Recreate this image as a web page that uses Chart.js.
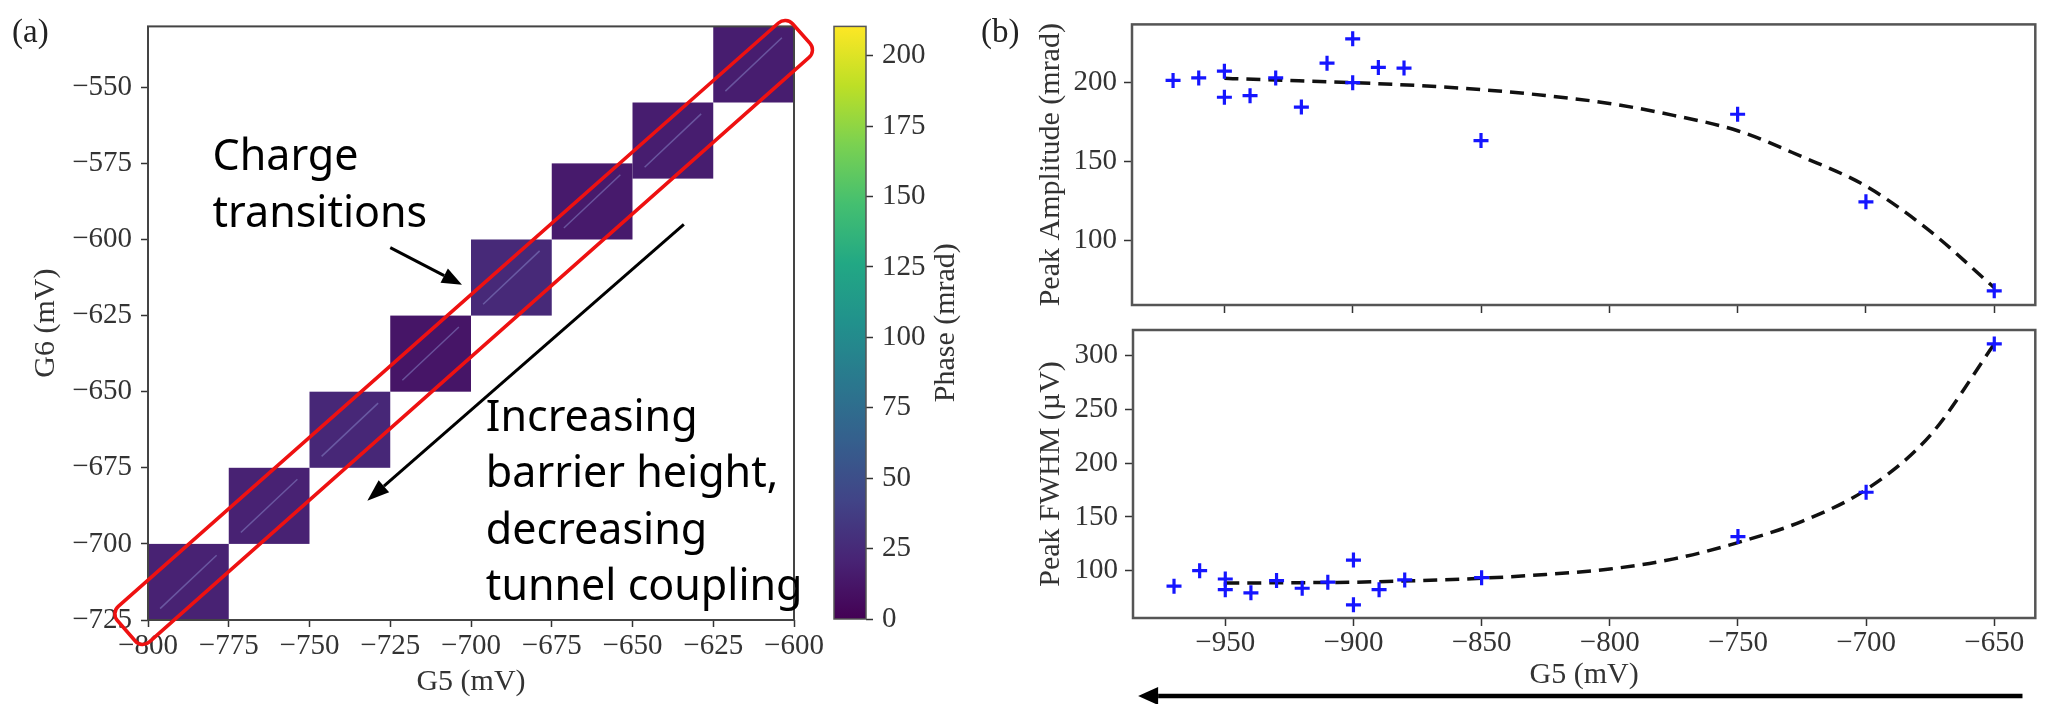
<!DOCTYPE html>
<html>
<head>
<meta charset="utf-8">
<script src="https://cdn.jsdelivr.net/npm/chart.js@4.4.1/dist/chart.umd.min.js"></script>
<style>
  html, body { margin: 0; padding: 0; background: #fff; }
  #wrap { position: relative; width: 2046px; height: 704px; overflow: hidden; }
  #wrap canvas { position: absolute; left: 0; top: 0; }
</style>
</head>
<body>
<div id="wrap">
  <canvas id="mapChart" width="2046" height="704"></canvas>
  <canvas id="barChart" width="2046" height="704"></canvas>
  <canvas id="ampChart" width="2046" height="704"></canvas>
  <canvas id="fwhmChart" width="2046" height="704"></canvas>
</div>
<script>
// panel (a): bloques del mapa de fase (esquina inferior izquierda de cada bloque)
const cellG5 = [-800, -775, -750, -725, -700, -675, -650, -625];
const cellG6 = [-725, -700, -675, -650, -625, -600, -580, -555];
const cellStep = 25;
const cellPhase = [20, 20, 23, 12, 24, 15, 17, 17];
const mapTicksG5 = [-800, -775, -750, -725, -700, -675, -650, -625, -600];
const mapTicksG6 = [-725, -700, -675, -650, -625, -600, -575, -550];
const phaseTicks = [0, 25, 50, 75, 100, 125, 150, 175, 200];

// panel (b): picos medidos
const g5Points = [-970, -960, -950, -950, -940, -930, -920, -910, -900, -900, -890, -880, -850, -750, -700, -650];
const peakAmp  = [201.0, 202.6, 206.8, 190.4, 191.4, 202.6, 184.2, 211.9, 227.2, 199.6, 209.2, 208.8, 163.1, 179.7, 124.5, 68.4];
const peakFwhm = [85.6, 100.0, 92.3, 82.4, 79.4, 90.8, 83.7, 89.3, 109.9, 68.3, 82.4, 91.4, 93.5, 131.8, 173.0, 311.0];
// curvas de ajuste
const fitG5   = [-950, -925, -900, -875, -850, -825, -800, -775, -750, -725, -700, -675, -650];
const fitAmp  = [202.3, 201.0, 199.6, 197.8, 195.2, 191.5, 186.5, 179.0, 169.3, 153.0, 134.4, 106.0, 70.4];
const fitFwhm = [88.5, 88.8, 89.3, 90.8, 93.0, 96.5, 101.6, 111.0, 126.2, 146.0, 175.5, 226.0, 311.0];
const bTicksG5 = [-950, -900, -850, -800, -750, -700, -650];
const ampTicks = [100, 150, 200];
const fwhmTicks = [100, 150, 200, 250, 300];

const SERIF = "'Liberation Serif', 'Times New Roman', serif";
const SANS = "'Noto Sans', 'Open Sans', sans-serif";
Chart.defaults.font.family = SERIF;
Chart.defaults.color = '#333';

const viridis = ['#440154', '#482475', '#414487', '#355f8d', '#2a788e', '#21918c',
                 '#22a884', '#44bf70', '#7ad151', '#bddf26', '#fde725'];

function viridisAt(t) {
    t = Math.min(1, Math.max(0, t)) * (viridis.length - 1);
    const i = Math.min(Math.floor(t), viridis.length - 2);
    const f = t - i;
    const a = parseInt(viridis[i].slice(1), 16), b = parseInt(viridis[i + 1].slice(1), 16);
    const ch = s => Math.round(((a >> s) & 255) * (1 - f) + ((b >> s) & 255) * f);
    return `rgb(${ch(16)},${ch(8)},${ch(0)})`;
}

const minus = v => String(v).replace('-', '\u2212');
const tickFont = { family: SERIF, size: 29 };
const titleFont = { family: SERIF, size: 30 };

// eje lineal con ticks fijos
function axis(min, max, ticks, extra) {
    return Object.assign({
        type: 'linear',
        min: min,
        max: max,
        afterBuildTicks: s => { s.ticks = ticks.map(v => ({ value: v })); },
        grid: { drawOnChartArea: false, drawTicks: true, tickLength: 7, tickColor: '#333', tickWidth: 1.5 },
        border: { display: false },
        ticks: { font: tickFont, color: '#333', padding: 2, callback: minus, maxRotation: 0, autoSkip: false }
    }, extra);
}

// marco alrededor del area de datos
const framePlugin = {
    id: 'frame',
    afterDatasetsDraw(chart, args, opts) {
        const a = chart.chartArea, ctx = chart.ctx;
        ctx.save();
        ctx.strokeStyle = opts.color || '#444';
        ctx.lineWidth = opts.width || 2;
        ctx.strokeRect(a.left, a.top, a.right - a.left, a.bottom - a.top);
        ctx.restore();
    }
};

function drawArrow(ctx, x1, y1, x2, y2, w, headLen, headW) {
    const ang = Math.atan2(y2 - y1, x2 - x1);
    const bx = x2 - headLen * Math.cos(ang), by = y2 - headLen * Math.sin(ang);
    ctx.lineWidth = w;
    ctx.beginPath(); ctx.moveTo(x1, y1); ctx.lineTo(bx, by); ctx.stroke();
    ctx.beginPath();
    ctx.moveTo(x2, y2);
    ctx.lineTo(bx + headW * Math.sin(ang), by - headW * Math.cos(ang));
    ctx.lineTo(bx - headW * Math.sin(ang), by + headW * Math.cos(ang));
    ctx.closePath(); ctx.fill();
}

// ---------- panel (a): mapa ----------
const heatPlugin = {
    id: 'heat',
    beforeDatasetsDraw(chart) {
        const ctx = chart.ctx, xs = chart.scales.x, ys = chart.scales.y;
        ctx.save();
        cellG5.forEach((g5, i) => {
            const x0 = xs.getPixelForValue(g5), x1 = xs.getPixelForValue(g5 + cellStep);
            const y0 = ys.getPixelForValue(cellG6[i]), y1 = ys.getPixelForValue(cellG6[i] + cellStep);
            ctx.fillStyle = viridisAt(cellPhase[i] / 210.4);
            ctx.fillRect(x0, y1, x1 - x0, y0 - y1);
            // linea de transicion
            ctx.strokeStyle = 'rgba(140,140,205,0.5)';
            ctx.lineWidth = 1.5;
            ctx.beginPath();
            ctx.moveTo(x0 + (x1 - x0) * 0.15, y0 - (y0 - y1) * 0.15);
            ctx.lineTo(x0 + (x1 - x0) * 0.85, y0 - (y0 - y1) * 0.85);
            ctx.stroke();
        });
        ctx.restore();
    }
};

const notePlugin = {
    id: 'notes',
    afterDraw(chart) {
        const ctx = chart.ctx, xs = chart.scales.x, ys = chart.scales.y;
        const px = (a, b) => [xs.getPixelForValue(a), ys.getPixelForValue(b)];
        ctx.save();
        // caja roja
        const L = px(-811.5, -722.7), T = px(-602.5, -526.7), R = px(-593, -538), B = px(-801.9, -734.4);
        const r = 10;
        ctx.strokeStyle = '#ee1111';
        ctx.lineWidth = 3.5;
        ctx.beginPath();
        ctx.moveTo((L[0] + T[0]) / 2, (L[1] + T[1]) / 2);
        ctx.arcTo(T[0], T[1], R[0], R[1], r);
        ctx.arcTo(R[0], R[1], B[0], B[1], r);
        ctx.arcTo(B[0], B[1], L[0], L[1], r);
        ctx.arcTo(L[0], L[1], T[0], T[1], r);
        ctx.closePath();
        ctx.stroke();

        // flechas
        ctx.strokeStyle = '#000';
        ctx.fillStyle = '#000';
        let a = px(-725, -602.7), b = px(-702.8, -614.9);
        drawArrow(ctx, a[0], a[1], b[0], b[1], 3, 20, 8);
        a = px(-634.1, -595); b = px(-732.1, -685.8);
        drawArrow(ctx, a[0], a[1], b[0], b[1], 3, 22, 8);

        // textos
        ctx.font = '43px ' + SANS;
        ctx.textAlign = 'left';
        ctx.textBaseline = 'alphabetic';
        let p = px(-780, -577.3);
        ['Charge', 'transitions'].forEach((t, i) => ctx.fillText(t, p[0], p[1] + i * 56.6));
        p = px(-695.4, -662.8);
        ['Increasing', 'barrier height,', 'decreasing', 'tunnel coupling']
            .forEach((t, i) => ctx.fillText(t, p[0], p[1] + i * 56.6));

        ctx.font = '33px ' + SERIF;
        ctx.fillStyle = '#222';
        ctx.fillText('(a)', 12, 42);
        ctx.restore();
    }
};

const mapX = axis(-800, -600, mapTicksG5, {
    position: 'bottom',
    afterFit: s => { s.height = 80; },
    title: { display: true, text: 'G5 (mV)', font: titleFont, color: '#333', padding: 0 }
});
const mapY = axis(-725, -530, mapTicksG6, {
    position: 'left',
    afterFit: s => { s.width = 120; },
    title: { display: true, text: 'G6 (mV)', font: titleFont, color: '#333', padding: 0 }
});
mapY.ticks.padding = 9;

new Chart(document.getElementById('mapChart'), {
    type: 'scatter',
    data: { datasets: [{ data: [] }] },
    options: {
        responsive: false,
        animation: false,
        devicePixelRatio: 1,
        layout: { padding: { left: 28, top: 18, right: 1252, bottom: 4 } },
        plugins: { legend: { display: false }, tooltip: { enabled: false }, frame: { color: '#444', width: 2 } },
        scales: { x: mapX, y: mapY }
    },
    plugins: [heatPlugin, framePlugin, notePlugin]
});

// ---------- barra de color ----------
const colorbarPlugin = {
    id: 'colorbar',
    beforeDatasetsDraw(chart) {
        const ctx = chart.ctx, a = chart.chartArea, ys = chart.scales.y;
        const g = ctx.createLinearGradient(0, ys.getPixelForValue(0), 0, ys.getPixelForValue(210.4));
        viridis.forEach((c, i) => g.addColorStop(i / (viridis.length - 1), c));
        ctx.save();
        ctx.fillStyle = g;
        ctx.fillRect(a.left, a.top, a.right - a.left, a.bottom - a.top);
        ctx.restore();
    },
    afterDraw(chart) {
        const ctx = chart.ctx, a = chart.chartArea;
        ctx.save();
        ctx.translate(946, (a.top + a.bottom) / 2);
        ctx.rotate(-Math.PI / 2);
        ctx.font = '30px ' + SERIF;
        ctx.fillStyle = '#333';
        ctx.textAlign = 'center';
        ctx.textBaseline = 'middle';
        ctx.fillText('Phase (mrad)', 0, 0);
        ctx.restore();
    }
};

const barY = axis(0, 210.4, phaseTicks, {
    position: 'right',
    afterFit: s => { s.width = 120; }
});
barY.ticks.padding = 9;

new Chart(document.getElementById('barChart'), {
    type: 'scatter',
    data: { datasets: [{ data: [] }] },
    options: {
        responsive: false,
        animation: false,
        devicePixelRatio: 1,
        layout: { padding: { left: 834, top: 17, right: 1060, bottom: 85 } },
        plugins: { legend: { display: false }, tooltip: { enabled: false }, frame: { color: '#555', width: 1.5 } },
        scales: {
            x: { type: 'linear', display: false, min: 0, max: 1 },
            y: barY
        }
    },
    plugins: [colorbarPlugin, framePlugin]
});

// ---------- panel (b) ----------
function peakChart(id, values, fit, yMin, yMax, yTicks, yTitle, padTop, padBottom, xHeight, showX) {
    const xAxis = axis(-986, -634, bTicksG5, {
        position: 'bottom',
        afterFit: s => { s.height = xHeight; }
    });
    xAxis.grid.tickLength = 8;
    if (showX) {
        xAxis.ticks.padding = 0;
        xAxis.title = { display: true, text: 'G5 (mV)', font: titleFont, color: '#333', padding: 0 };
    } else {
        xAxis.ticks.display = false;
    }
    const yAxis = axis(yMin, yMax, yTicks, {
        position: 'left',
        afterFit: s => { s.width = showX ? 100 : 99; },
        title: { display: true, text: yTitle, font: titleFont, color: '#333', padding: 0 }
    });
    yAxis.ticks.padding = 7;
    yAxis.grid.tickLength = 8;

    return new Chart(document.getElementById(id), {
        type: 'scatter',
        data: {
            datasets: [{
                data: g5Points.map((x, i) => ({ x: x, y: values[i] })),
                pointStyle: 'cross',
                pointRadius: 7.5,
                borderWidth: 3.2,
                borderColor: '#1515ff',
                order: 0
            }, {
                data: fitG5.map((x, i) => ({ x: x, y: fit[i] })),
                showLine: true,
                pointRadius: 0,
                borderColor: '#111',
                borderWidth: 3.5,
                borderDash: [14, 8],
                cubicInterpolationMode: 'monotone',
                order: 1
            }]
        },
        options: {
            responsive: false,
            animation: false,
            devicePixelRatio: 1,
            layout: { padding: { left: 1033, top: padTop, right: 4, bottom: padBottom } },
            plugins: { legend: { display: false }, tooltip: { enabled: false }, frame: { color: '#555', width: 2.5 } },
            scales: { x: xAxis, y: yAxis }
        },
        plugins: [framePlugin, {
            id: 'extras',
            afterDraw(chart) {
                const ctx = chart.ctx;
                ctx.save();
                if (showX) {
                    // flecha inferior
                    const xs = chart.scales.x;
                    ctx.strokeStyle = '#000';
                    ctx.fillStyle = '#000';
                    drawArrow(ctx, xs.getPixelForValue(-639), 696, xs.getPixelForValue(-984), 696, 4.5, 20, 9);
                } else {
                    ctx.font = '33px ' + SERIF;
                    ctx.fillStyle = '#222';
                    ctx.fillText('(b)', 981, 42);
                }
                ctx.restore();
            }
        }]
    });
}

peakChart('ampChart', peakAmp, fitAmp, 59.5, 236.3, ampTicks, 'Peak Amplitude (mrad)', 17, 389, 10, false);
peakChart('fwhmChart', peakFwhm, fitFwhm, 56, 324, fwhmTicks, 'Peak FWHM (\u00b5V)', 330, 11, 75, true);
</script>
</body>
</html>
